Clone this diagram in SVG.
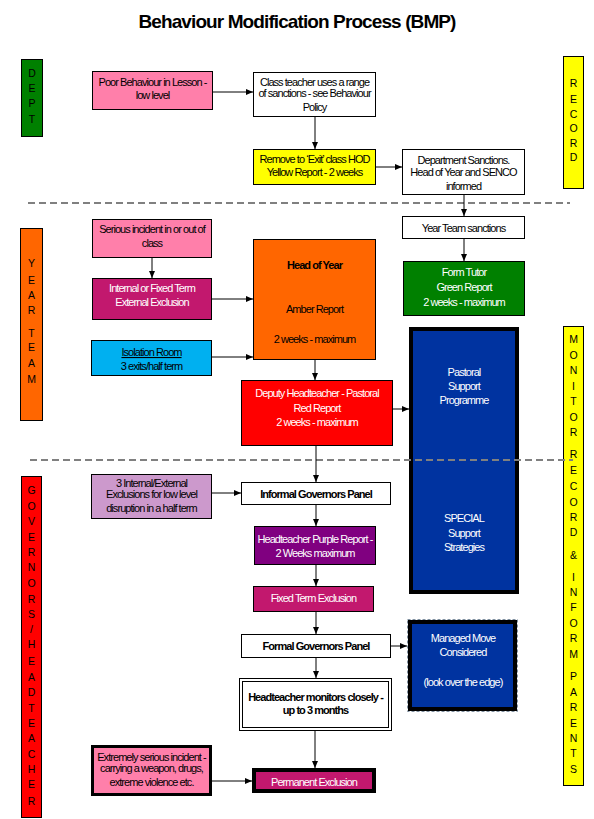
<svg xmlns="http://www.w3.org/2000/svg" width="594" height="819" viewBox="0 0 594 819">
<style>
.t{font-family:"Liberation Sans",Arial,sans-serif;font-size:11px;letter-spacing:-0.95px;text-anchor:middle;fill:#000}
.w{fill:#fff}
.b{font-weight:bold}
.L{font-family:"Liberation Sans",Arial,sans-serif;font-size:10.5px;text-anchor:middle;fill:#000}
.box{stroke:#000;stroke-width:1}
.c{stroke:#000;stroke-width:1;fill:none;marker-end:url(#ah)}
.sep{stroke:#808080;stroke-width:2;stroke-dasharray:7,4;fill:none}
</style>
<defs>
<marker id="ah" markerUnits="userSpaceOnUse" markerWidth="7" markerHeight="6" refX="7" refY="3" orient="auto">
<path d="M0,0 L7,3 L0,6 z" fill="#000"/>
</marker>
</defs>
<rect width="594" height="819" fill="#fff"/>
<text x="297" y="28" font-family="Liberation Sans, Arial, sans-serif" font-size="19" font-weight="bold" letter-spacing="-0.9" text-anchor="middle">Behaviour Modification Process (BMP)</text>

<g id="dept">
<rect class="box" x="21.5" y="59.5" width="21" height="77" fill="#008000"/>
<text class="L w" x="32" y="77">D</text>
<text class="L w" x="32" y="92">E</text>
<text class="L w" x="32" y="107">P</text>
<text class="L w" x="32" y="123">T</text>
</g>
<g id="record">
<rect class="box" x="563.5" y="56.5" width="20" height="132" fill="#FFFF00"/>
<text class="L" x="573.5" y="87">R</text>
<text class="L" x="573.5" y="103">E</text>
<text class="L" x="573.5" y="118">C</text>
<text class="L" x="573.5" y="132">O</text>
<text class="L" x="573.5" y="147">R</text>
<text class="L" x="573.5" y="161">D</text>
</g>
<g id="yearteam">
<rect class="box" x="20.5" y="228.5" width="22" height="192" fill="#FF6600"/>
<text class="L" x="31.5" y="267">Y</text>
<text class="L" x="31.5" y="284">E</text>
<text class="L" x="31.5" y="299">A</text>
<text class="L" x="31.5" y="314">R</text>
<text class="L" x="31.5" y="337">T</text>
<text class="L" x="31.5" y="351">E</text>
<text class="L" x="31.5" y="367">A</text>
<text class="L" x="31.5" y="383">M</text>
</g>
<g id="monitor">
<rect class="box" x="563.5" y="326.5" width="20" height="459" fill="#FFFF00"/>
<text class="L" x="573.5" y="343">M</text>
<text class="L" x="573.5" y="359">O</text>
<text class="L" x="573.5" y="374">N</text>
<text class="L" x="573.5" y="390">I</text>
<text class="L" x="573.5" y="405">T</text>
<text class="L" x="573.5" y="421">O</text>
<text class="L" x="573.5" y="436">R</text>
<text class="L" x="573.5" y="458">R</text>
<text class="L" x="573.5" y="474">E</text>
<text class="L" x="573.5" y="490">C</text>
<text class="L" x="573.5" y="506">O</text>
<text class="L" x="573.5" y="521">R</text>
<text class="L" x="573.5" y="536">D</text>
<text class="L" x="573.5" y="559">&amp;</text>
<text class="L" x="573.5" y="581">I</text>
<text class="L" x="573.5" y="596">N</text>
<text class="L" x="573.5" y="611">F</text>
<text class="L" x="573.5" y="627">O</text>
<text class="L" x="573.5" y="642">R</text>
<text class="L" x="573.5" y="658">M</text>
<text class="L" x="573.5" y="680">P</text>
<text class="L" x="573.5" y="696">A</text>
<text class="L" x="573.5" y="711">R</text>
<text class="L" x="573.5" y="727">E</text>
<text class="L" x="573.5" y="742">N</text>
<text class="L" x="573.5" y="757">T</text>
<text class="L" x="573.5" y="773">S</text>
</g>
<g id="governors">
<rect class="box" x="21.5" y="476.5" width="20" height="341" fill="#FF0000"/>
<text class="L w" x="31.5" y="494">G</text>
<text class="L w" x="31.5" y="510">O</text>
<text class="L w" x="31.5" y="525">V</text>
<text class="L w" x="31.5" y="541">E</text>
<text class="L w" x="31.5" y="556">R</text>
<text class="L w" x="31.5" y="571">N</text>
<text class="L w" x="31.5" y="587">O</text>
<text class="L w" x="31.5" y="603">R</text>
<text class="L w" x="31.5" y="618">S</text>
<text class="L w" x="31.5" y="633">/</text>
<text class="L w" x="31.5" y="648">H</text>
<text class="L w" x="31.5" y="665">E</text>
<text class="L w" x="31.5" y="681">A</text>
<text class="L w" x="31.5" y="696">D</text>
<text class="L w" x="31.5" y="712">T</text>
<text class="L w" x="31.5" y="727">E</text>
<text class="L w" x="31.5" y="742">A</text>
<text class="L w" x="31.5" y="758">C</text>
<text class="L w" x="31.5" y="773">H</text>
<text class="L w" x="31.5" y="788">E</text>
<text class="L w" x="31.5" y="805">R</text>
</g>

<g id="poor">
<rect class="box" x="92.5" y="71.5" width="120" height="38" fill="#FF7FAA"/>
<text class="t"><tspan x="152.5" y="86">Poor Behaviour in Lesson -</tspan><tspan x="152.5" y="99">low level</tspan></text>
</g>
<g id="classteacher">
<rect class="box" x="253.5" y="72.5" width="122" height="44" fill="#fff"/>
<text class="t"><tspan x="314.5" y="85.5">Class teacher uses a range</tspan><tspan x="314.5" y="96.5">of sanctions - see Behaviour</tspan><tspan x="314.5" y="110.5">Policy</tspan></text>
</g>
<g id="exitclass">
<rect class="box" x="253.5" y="149.5" width="122" height="35" fill="#FFFF00"/>
<text class="t"><tspan x="314.5" y="163">Remove to ‘Exit’ class HOD</tspan><tspan x="314.5" y="176">Yellow Report - 2 weeks</tspan></text>
</g>
<g id="deptsanctions">
<rect class="box" x="402.5" y="149.5" width="122" height="45" fill="#fff"/>
<text class="t"><tspan x="463.5" y="164">Department Sanctions.</tspan><tspan x="463.5" y="176">Head of Year and SENCO</tspan><tspan x="463.5" y="190">informed</tspan></text>
</g>
<g id="yearteamsanctions">
<rect class="box" x="402.5" y="216.5" width="122" height="22" fill="#fff"/>
<text class="t" x="463.5" y="232">Year Team sanctions</text>
</g>
<g id="formtutor">
<rect class="box" x="403.5" y="261.5" width="121" height="54" fill="#008000"/>
<text class="t w"><tspan x="464" y="276">Form Tutor</tspan><tspan x="464" y="291">Green Report</tspan><tspan x="464" y="306">2 weeks - maximum</tspan></text>
</g>
<g id="serious">
<rect class="box" x="92.5" y="219.5" width="119" height="38" fill="#FF7FAA"/>
<text class="t"><tspan x="152" y="233">Serious incident in or out of</tspan><tspan x="152" y="247">class</tspan></text>
</g>
<g id="internalfixed">
<rect class="box" x="92.5" y="278.5" width="119" height="41" fill="#C2186E"/>
<text class="t w"><tspan x="152" y="292">Internal or Fixed Term</tspan><tspan x="152" y="306">External Exclusion</tspan></text>
</g>
<g id="isolation">
<rect class="box" x="91.5" y="340.5" width="120" height="35" fill="#00B0F0"/>
<text class="t"><tspan x="151.5" y="356" text-decoration="underline">Isolation Room</tspan><tspan x="151.5" y="370">3 exits/half term</tspan></text>
</g>
<g id="headofyear">
<rect class="box" x="253.5" y="239.5" width="122" height="120" fill="#FF6600"/>
<text class="t"><tspan class="b" x="314.5" y="269">Head of Year</tspan><tspan x="314.5" y="313">Amber Report</tspan><tspan x="314.5" y="343">2 weeks - maximum</tspan></text>
</g>
<g id="deputy">
<rect class="box" x="241.5" y="380.5" width="151" height="65" fill="#FF0000"/>
<text class="t w"><tspan x="317" y="397">Deputy Headteacher - Pastoral</tspan><tspan x="317" y="412">Red Report</tspan><tspan x="317" y="426">2 weeks - maximum</tspan></text>
</g>
<g id="pastoral">
<rect x="411" y="329" width="106" height="263" fill="#0033A0" stroke="#000" stroke-width="4"/>
<text class="t w"><tspan x="464" y="376">Pastoral</tspan><tspan x="464" y="390">Support</tspan><tspan x="464" y="404">Programme</tspan><tspan x="464" y="522">SPECIAL</tspan><tspan x="464" y="537">Support</tspan><tspan x="464" y="551">Strategies</tspan></text>
</g>
<g id="threeinternal">
<rect class="box" x="91.5" y="474.5" width="120" height="44" fill="#CC99CC"/>
<text class="t"><tspan x="151.5" y="487">3 Internal/External</tspan><tspan x="151.5" y="498">Exclusions for low level</tspan><tspan x="151.5" y="512">disruption in a half term</tspan></text>
</g>
<g id="informalgov">
<rect class="box" x="241.5" y="482.5" width="149" height="22" fill="#fff"/>
<text class="t b" x="316" y="497.5">Informal Governors Panel</text>
</g>
<g id="purplereport">
<rect class="box" x="254.5" y="526.5" width="121" height="38" fill="#800080"/>
<text class="t w"><tspan x="315" y="543">Headteacher Purple Report -</tspan><tspan x="315" y="557">2 Weeks maximum</tspan></text>
</g>
<g id="fixedterm">
<rect class="box" x="253.5" y="586.5" width="120" height="25" fill="#C2186E"/>
<text class="t w" x="313.5" y="602">Fixed Term Exclusion</text>
</g>
<g id="formalgov">
<rect class="box" x="241.5" y="634.5" width="149" height="23" fill="#fff"/>
<text class="t b" x="316" y="649.5">Formal Governors Panel</text>
</g>
<g id="managedmove">
<rect x="407.5" y="619.5" width="110" height="92" fill="none" stroke="#8090A0" stroke-width="1" stroke-dasharray="3,2"/>
<rect x="410" y="622" width="105" height="87" fill="#0033A0" stroke="#000" stroke-width="4"/>
<text class="t w"><tspan x="463" y="642">Managed Move</tspan><tspan x="463" y="656">Considered</tspan><tspan x="463" y="686">(look over the edge)</tspan></text>
</g>
<g id="hmonitors">
<rect class="box" x="239.5" y="678.5" width="152" height="52" fill="#fff"/>
<rect class="box" x="242.5" y="681.5" width="146" height="46" fill="none"/>
<text class="t b"><tspan x="315.5" y="701">Headteacher monitors closely -</tspan><tspan x="315.5" y="714">up to 3 months</tspan></text>
</g>
<g id="permanent">
<rect x="254" y="770" width="120" height="21" fill="#C2186E" stroke="#000" stroke-width="4"/>
<text class="t w" x="314" y="786">Permanent Exclusion</text>
</g>
<g id="extreme">
<rect x="92.5" y="746.5" width="118" height="48" fill="#FF7FAA" stroke="#000" stroke-width="3"/>
<text class="t"><tspan x="151.5" y="761">Extremely serious incident -</tspan><tspan x="151.5" y="772">carrying a weapon, drugs,</tspan><tspan x="151.5" y="786">extreme violence etc.</tspan></text>
</g>

<g id="separators">
<line class="sep" x1="28" y1="203" x2="570" y2="203"/>
<line class="sep" x1="30" y1="460" x2="573" y2="460"/>
</g>

<g id="connectors">
<line class="c" x1="213" y1="92" x2="253" y2="92"/>
<line class="c" x1="315" y1="117" x2="315" y2="149"/>
<line class="c" x1="376" y1="167" x2="402" y2="167"/>
<line class="c" x1="464" y1="195" x2="464" y2="216"/>
<line class="c" x1="464" y1="239" x2="464" y2="261"/>
<line class="c" x1="152" y1="258" x2="152" y2="278"/>
<line class="c" x1="212" y1="299" x2="253" y2="299"/>
<line class="c" x1="212" y1="357" x2="253" y2="357"/>
<line class="c" x1="315" y1="360" x2="315" y2="380"/>
<line class="c" x1="393" y1="409" x2="409" y2="409"/>
<line class="c" x1="316" y1="446" x2="316" y2="482"/>
<line class="c" x1="212" y1="493" x2="241" y2="493"/>
<line class="c" x1="316" y1="505" x2="316" y2="526"/>
<line class="c" x1="316" y1="565" x2="316" y2="586"/>
<line class="c" x1="316" y1="612" x2="316" y2="634"/>
<line class="c" x1="391" y1="646" x2="407" y2="646"/>
<line class="c" x1="316" y1="658" x2="316" y2="678"/>
<line class="c" x1="315" y1="731" x2="315" y2="768"/>
<line class="c" x1="211" y1="781" x2="252" y2="781"/>
</g>
</svg>
